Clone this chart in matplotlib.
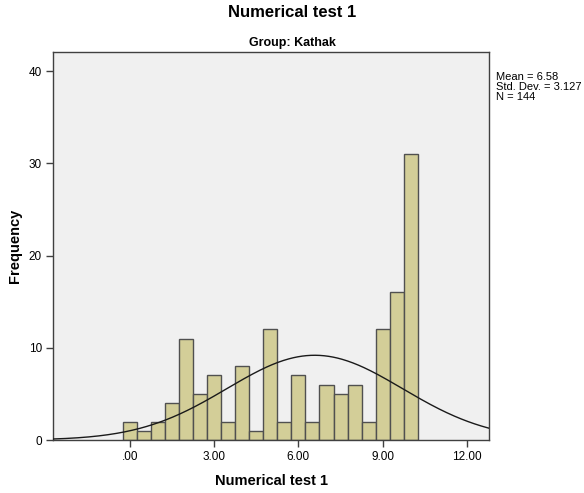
import matplotlib
matplotlib.use("Agg")
import matplotlib.pyplot as plt
import numpy as np

plt.rcParams['font.family'] = ['Liberation Sans', 'DejaVu Sans']

# histogram data (bin centres and counts)
bin_centers = [0.0, 0.5, 1.0, 1.5, 2.0, 2.5, 3.0, 3.5, 4.0, 4.5, 5.0,
               5.5, 6.0, 6.5, 7.0, 7.5, 8.0, 8.5, 9.0, 9.5, 10.0]
counts = [2, 1, 2, 4, 11, 5, 7, 2, 8, 1, 12,
          2, 7, 2, 6, 5, 6, 2, 12, 16, 31]
bin_width = 0.5

# summary statistics shown in the legend box
mean = 6.58
std_dev = 3.127
n_cases = 144

x_ticks = [0, 3, 6, 9, 12]
x_tick_labels = ['.00', '3.00', '6.00', '9.00', '12.00']
y_ticks = [0, 10, 20, 30, 40]

fig = plt.figure(figsize=(5.84, 4.93), dpi=100, facecolor='white')
ax = fig.add_axes([0.0908, 0.1075, 0.7466, 0.787])
ax.set_facecolor('#F0F0F0')

ax.bar(bin_centers, counts, width=bin_width, color='#D3CE98',
       edgecolor='#505050', linewidth=1.0, zorder=2)

# fitted normal curve
xs = np.linspace(-2.8, 12.9, 400)
pdf = np.exp(-0.5 * ((xs - mean) / std_dev) ** 2) / (std_dev * np.sqrt(2 * np.pi))
ax.plot(xs, n_cases * bin_width * pdf, color='#1a1a1a', linewidth=1.0, zorder=3)

ax.set_xlim(-2.74, 12.79)
ax.set_ylim(0, 42.06)
ax.set_xticks(x_ticks)
ax.set_xticklabels(x_tick_labels)
ax.set_yticks(y_ticks)
ax.tick_params(axis='both', direction='out', length=5, width=1,
               color='#404040', labelsize=8.5, labelcolor='black', pad=3)
for side in ax.spines.values():
    side.set_color('#404040')
    side.set_linewidth(1.0)

ax.set_xlabel('Numerical test 1', fontsize=10.5, fontweight='bold', labelpad=8)
ax.set_ylabel('Frequency', fontsize=10.5, fontweight='bold', labelpad=5)

fig.text(0.5, 0.975, 'Numerical test 1', ha='center', va='center',
         fontsize=12, fontweight='bold')
fig.text(0.5, 0.913, 'Group: Kathak', ha='center', va='center',
         fontsize=9, fontweight='bold')

fig.text(496 / 584, 1 - 72 / 493,
         f'Mean = {mean:.2f}\nStd. Dev. = {std_dev:.3f}\nN = {n_cases}',
         ha='left', va='top', fontsize=8, linespacing=1.0)

fig.savefig('out.png', dpi=100)
